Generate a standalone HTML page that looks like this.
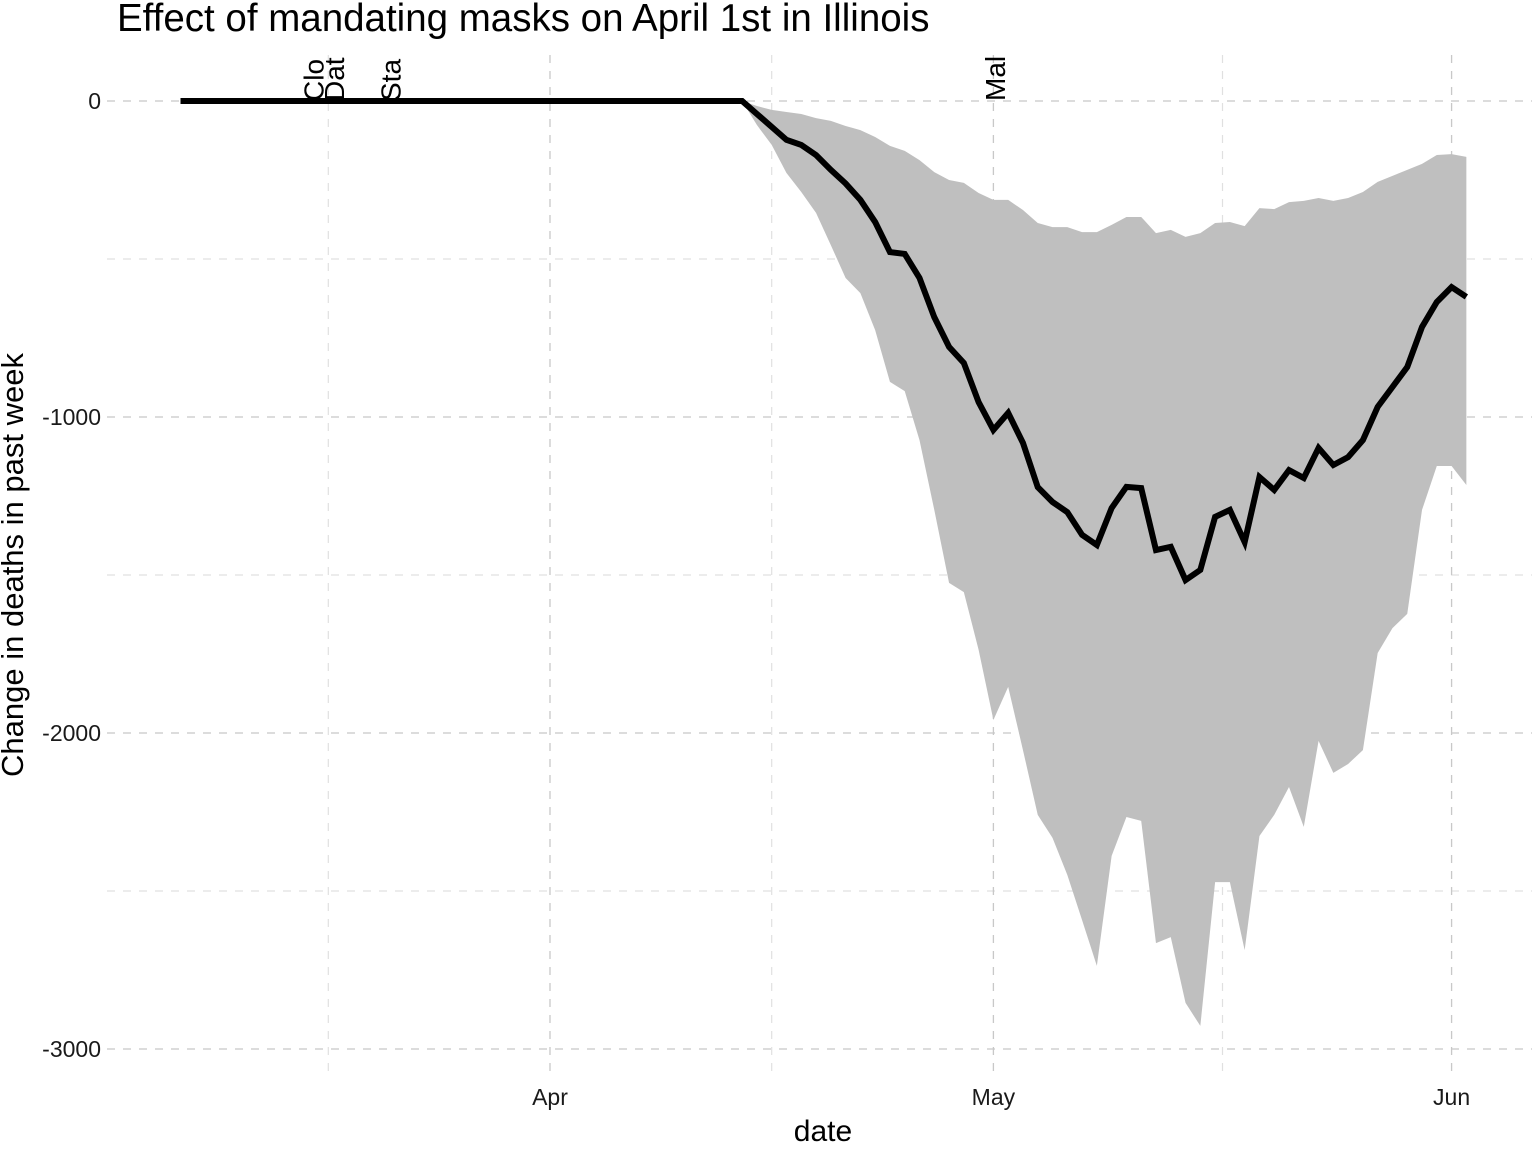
<!DOCTYPE html>
<html><head><meta charset="utf-8"><style>
html,body{margin:0;padding:0;background:#fff;}
svg{display:block;font-family:"Liberation Sans",sans-serif;}
</style></head><body>
<svg id="chart" width="1536" height="1152" viewBox="0 0 1536 1152" xmlns="http://www.w3.org/2000/svg">
<defs><clipPath id="panel"><rect x="107" y="55" width="1425" height="1022"/></clipPath></defs>
<text x="117" y="31" font-size="38.5" fill="#000">Effect of mandating masks on April 1st in Illinois</text>
<g id="grid"></g>
<g id="band" clip-path="url(#panel)"></g>
<g id="line" clip-path="url(#panel)"></g>
<g id="events" clip-path="url(#panel)"></g>
<g id="axes"></g>
<text x="823" y="1141" font-size="30" text-anchor="middle">date</text>
<text transform="translate(23,565) rotate(-90)" font-size="31" text-anchor="middle">Change in deaths in past week</text>
</svg>
<script>
// days relative to April 1
const flatStart = -25;
const bandStart = 13;
const lineValues = [0,-41,-82,-123,-139,-171,-218,-261,-313,-383,-478,-484,-560,-684,-778,-829,-953,-1041,-987,-1082,-1222,-1269,-1301,-1373,-1405,-1288,-1221,-1225,-1421,-1411,-1516,-1484,-1316,-1294,-1396,-1190,-1231,-1168,-1193,-1098,-1152,-1127,-1073,-968,-905,-842,-715,-636,-589,-620];
const upperValues = [0,-16,-28,-35,-41,-54,-63,-79,-92,-114,-142,-158,-187,-225,-250,-259,-291,-313,-313,-345,-386,-399,-399,-415,-415,-392,-367,-367,-418,-408,-430,-418,-386,-383,-396,-339,-342,-320,-316,-307,-316,-307,-288,-256,-237,-218,-199,-171,-168,-177];
const lowerValues = [0,-76,-139,-228,-288,-354,-456,-560,-608,-725,-889,-918,-1073,-1294,-1525,-1554,-1737,-1959,-1854,-2054,-2259,-2332,-2449,-2592,-2737,-2389,-2266,-2278,-2665,-2646,-2854,-2927,-2472,-2472,-2687,-2326,-2259,-2171,-2297,-2025,-2126,-2098,-2054,-1747,-1668,-1623,-1294,-1155,-1155,-1215];
const yTicks = [0,-1000,-2000,-3000];
const yMinor = [-500,-1500,-2500];
const xTickDays = [0,30,61];
const xTickLabels = ["Apr","May","Jun"];
const xMinorDays = [-15,15,45.5];
const eventDays = [-16,-14.6,-10.8,30.1];
const eventLabels = ["Clo","Dat","Sta","Mal"];

const NS="http://www.w3.org/2000/svg";
const X = d => 550 + d*14.78;
const Y = v => 101 - v*0.316;
function mk(tag, attrs, parent){const e=document.createElementNS(NS,tag);for(const k in attrs)e.setAttribute(k,attrs[k]);parent.appendChild(e);return e;}
const grid=document.getElementById('grid'), axes=document.getElementById('axes');
yTicks.forEach((v,i)=>{
  const l=mk('line',{x1:107,x2:1532,y1:Y(v),y2:Y(v),stroke:'#c8c8c8','stroke-width':1.3,'stroke-dasharray':'8 8'},grid);
  
  
  const t=mk('text',{x:101,y:Y(v)+8,'font-size':23,'text-anchor':'end',fill:'#1a1a1a'},axes);
  t.textContent=String(v);
  
  
});
yMinor.forEach(v=>{
  const l=mk('line',{x1:107,x2:1532,y1:Y(v),y2:Y(v),stroke:'#e0e0e0','stroke-width':1.2,'stroke-dasharray':'8 8'},grid);
  
  
});
xTickDays.forEach((d,i)=>{
  const l=mk('line',{x1:X(d),x2:X(d),y1:55,y2:1077,stroke:'#c8c8c8','stroke-width':1.3,'stroke-dasharray':'8 8'},grid);
  
  
  const t=mk('text',{x:X(d),y:1105,'font-size':23,'text-anchor':'middle',fill:'#1a1a1a'},axes);
  t.textContent=xTickLabels[i];
  
  
});
xMinorDays.forEach(d=>{
  const l=mk('line',{x1:X(d),x2:X(d),y1:55,y2:1077,stroke:'#e0e0e0','stroke-width':1.2,'stroke-dasharray':'8 8'},grid);
  
  
});
let pts=[];
upperValues.forEach((v,i)=>pts.push(X(bandStart+i)+','+Y(v)));
for(let i=lowerValues.length-1;i>=0;i--)pts.push(X(bandStart+i)+','+Y(lowerValues[i]));
const band=mk('polygon',{points:pts.join(' '),fill:'#bfbfbf'},document.getElementById('band'));


let lp=[X(flatStart)+','+Y(0)];
lineValues.forEach((v,i)=>lp.push(X(bandStart+i)+','+Y(v)));
const line=mk('polyline',{points:lp.join(' '),fill:'none',stroke:'#000','stroke-width':6,'stroke-linejoin':'miter'},document.getElementById('line'));


const ev=document.getElementById('events');
eventDays.forEach((d,i)=>{
  const t=mk('text',{transform:`translate(${X(d)+10},101) rotate(-90)`,'font-size':28,fill:'#000'},ev);
  t.textContent=eventLabels[i];
  
  
});
</script>
</body></html>
